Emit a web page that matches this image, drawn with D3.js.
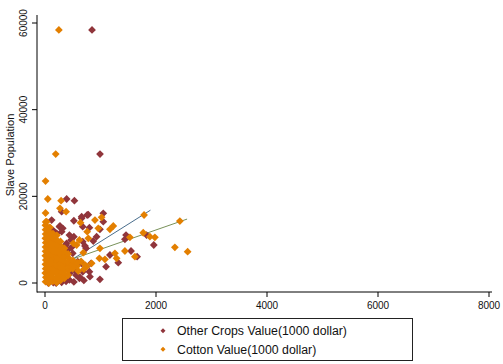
<!DOCTYPE html>
<html>
<head>
<meta charset="utf-8">
<script src="https://cdn.jsdelivr.net/npm/d3@7"></script>
<style>
body{margin:0;background:#fff;}
svg{display:block;font-family:"Liberation Sans",Arial,sans-serif;}
</style>
</head>
<body>
<div id="chart"></div>
<script>
var W = 503, H = 364;

// ticks
var xTicks = [0, 2000, 4000, 6000, 8000]
var yTicks = [0, 20000, 40000, 60000]

// other crops value (1000 dollar) vs slave population
var otherCrops = [
    [847,58400],[991,29760],[390,19380],[530,19000],[300,16450],[660,14920],[760,15690],[1050,16070],
    [1960,8770],[1830,11070],[1440,10080],[1460,11070],[1660,6070],[1550,7380],[1320,4680],[1170,6460],
    [1100,3760],[810,1450],[990,850],[930,10680],[990,12380],[1050,14150],[800,12760],[870,9690],
    [680,12990],[520,14370],[660,15300],[780,15760],[520,10680],[480,8240],[390,9150],[720,8540],
    [660,4540],[630,1310],[450,2240],[210,11460],[270,13150],[300,11840],[120,14530],
    [60,0],[150,100],[200,0],[300,150],[380,400],[440,700],[520,250],[620,1100],[560,1800],
    [680,2600],[530,3000],[800,2600],[740,3760],[830,4540],[590,4910],[500,6850],[410,7610],
    [380,8770],[740,8000],[680,9530],[470,9920],[440,11070],[320,12610],[260,12990],[150,12100],
    [100,3000],[200,6000],[150,9000],[250,2000],[330,4200],[90,7000],[230,500],[700,600]
]

// cotton value (1000 dollar) vs slave population
var cotton = [
    [250,58400],[193,29760],[10,23530],[50,19380],[290,19000],[270,17230],[380,16450],[10,16150],
    [1020,15150],[1785,15690],[2430,14300],[2570,7230],[2340,8240],[1890,10680],[1980,10540],[1770,11600],
    [1530,10540],[1620,6070],[1440,7380],[1260,6850],[1290,5690],[990,8000],[1080,5460],[980,5690],
    [960,12610],[1170,12380],[1230,13150],[900,14530],[760,11840],[780,10310],[640,13910],[620,9920],
    [510,9150],[570,8770],[690,6990],[750,3760],[600,2770],[840,4540],[30,14150],[90,12840],[180,9920],
    [10,300],[15,1300],[5,2300],[12,3300],[8,4300],[14,5300],[6,6300],[10,7300],[9,8300],[13,9300],
    [7,10300],[11,11300],[10,12300],[8,13300],[12,14100],
    [70,0],[65,900],[75,1900],[68,2900],[72,3900],[66,4900],[74,5900],[70,6900],[69,7900],[73,8900],
    [67,9900],[71,10900],[70,11900],[75,12800],
    [140,400],[135,1400],[145,2400],[138,3400],[142,4400],[136,5400],[144,6400],[140,7400],[139,8400],
    [141,9400],[137,10400],[143,11400],
    [210,100],[205,1000],[215,2000],[208,3000],[212,4000],[206,5000],[214,6000],[210,7000],[209,8000],
    [211,9000],[207,10000],[213,11000],
    [280,600],[275,1600],[285,2600],[278,3600],[282,4600],[276,5600],[284,6600],[280,7600],[281,8600],
    [279,9600],
    [350,1100],[345,2100],[355,3100],[348,4100],[352,5100],[346,6100],[354,7100],[350,8000],
    [420,1800],[415,2800],[425,3800],[418,4800],[422,5800],[416,6700],
    [500,3300],[495,4300],[505,5200],[580,3900],[585,4700],[650,5000],[720,4200],[700,3200]
]

// linear fit lines
var otherFit = [[0,1500],[1900,16800]]
var cottonFit = [[0,3300],[2560,14750]]

var legendLabels = ["Other Crops Value(1000 dollar)", "Cotton Value(1000 dollar)"]
var colors = ["#90353B", "#E37F00"]
var fitColors = ["#1A476F", "#55752F"]

var svg = d3.select("#chart").append("svg")
    .attr("width", W)
    .attr("height", H)

var xScale = d3.scaleLinear().domain([0, 8000]).range([45, 489])
var yScale = d3.scaleLinear().domain([0, 60000]).range([283, 23])

var plotLeft = 37, plotRight = 492, plotTop = 15, plotBottom = 292

// axes lines
svg.append("line")
    .attr("x1", plotLeft).attr("x2", plotLeft)
    .attr("y1", plotTop).attr("y2", plotBottom + 0.5)
    .attr("stroke", "#000").attr("stroke-width", 1)
svg.append("line")
    .attr("x1", plotLeft).attr("x2", plotRight)
    .attr("y1", plotBottom).attr("y2", plotBottom)
    .attr("stroke", "#000").attr("stroke-width", 1)

// y ticks
var yAxis = svg.append("g").attr("class", "y axis")
yTicks.forEach(function(t){
    yAxis.append("line")
        .attr("x1", plotLeft - 5).attr("x2", plotLeft)
        .attr("y1", yScale(t)).attr("y2", yScale(t))
        .attr("stroke", "#000")
    yAxis.append("text")
        .attr("transform", "translate(27," + yScale(t) + ") rotate(-90)")
        .attr("text-anchor", "middle")
        .style("font-size", "10px")
        .attr("fill", "#111")
        .text(t)
})

// x ticks
var xAxis = svg.append("g").attr("class", "x axis")
xTicks.forEach(function(t){
    xAxis.append("line")
        .attr("x1", xScale(t)).attr("x2", xScale(t))
        .attr("y1", plotBottom).attr("y2", plotBottom + 5)
        .attr("stroke", "#000")
    xAxis.append("text")
        .attr("x", xScale(t))
        .attr("y", 308.5)
        .attr("text-anchor", "middle")
        .style("font-size", "10px")
        .attr("fill", "#111")
        .text(t)
})

// y title
svg.append("text")
    .attr("transform", "translate(14,155) rotate(-90)")
    .attr("text-anchor", "middle")
    .style("font-size", "11px")
    .attr("fill", "#111")
    .text("Slave Population")

//fit lines go under the markers
var line = d3.line()
    .x(function(d){ return xScale(d[0]) })
    .y(function(d){ return yScale(d[1]) })
svg.append("path").datum(otherFit)
    .attr("d", line).attr("fill", "none")
    .attr("stroke", fitColors[0]).attr("stroke-width", 0.8)
svg.append("path").datum(cottonFit)
    .attr("d", line).attr("fill", "none")
    .attr("stroke", fitColors[1]).attr("stroke-width", 0.8)

function diamond(r){
    return "M0," + (-r) + "L" + r + ",0L0," + r + "L" + (-r) + ",0Z"
}

svg.append("g").selectAll(".dot.other").data(otherCrops).enter()
    .append("path")
    .attr("class", "dot other")
    .attr("d", diamond(3.9))
    .attr("transform", function(d){ return "translate(" + xScale(d[0]) + "," + yScale(d[1]) + ")" })
    .attr("fill", colors[0])

svg.append("g").selectAll(".dot.cotton").data(cotton).enter()
    .append("path")
    .attr("class", "dot cotton")
    .attr("d", diamond(3.9))
    .attr("transform", function(d){ return "translate(" + xScale(d[0]) + "," + yScale(d[1]) + ")" })
    .attr("fill", colors[1])

// legend
var legend = svg.append("g").attr("class", "legend")
legend.append("rect")
    .attr("x", 122.5).attr("y", 318.5)
    .attr("width", 290).attr("height", 42)
    .attr("fill", "#fff").attr("stroke", "#222")
legendLabels.forEach(function(lab, i){
    var cy = 330.7 + i * 18.6
    legend.append("path")
        .attr("d", diamond(2.5))
        .attr("transform", "translate(163," + cy + ")")
        .attr("fill", colors[i])
    legend.append("text")
        .attr("x", 177)
        .attr("y", cy + 4.4)
        .style("font-size", "12.3px")
        .attr("fill", "#111")
        .text(lab)
})
</script>
</body>
</html>
